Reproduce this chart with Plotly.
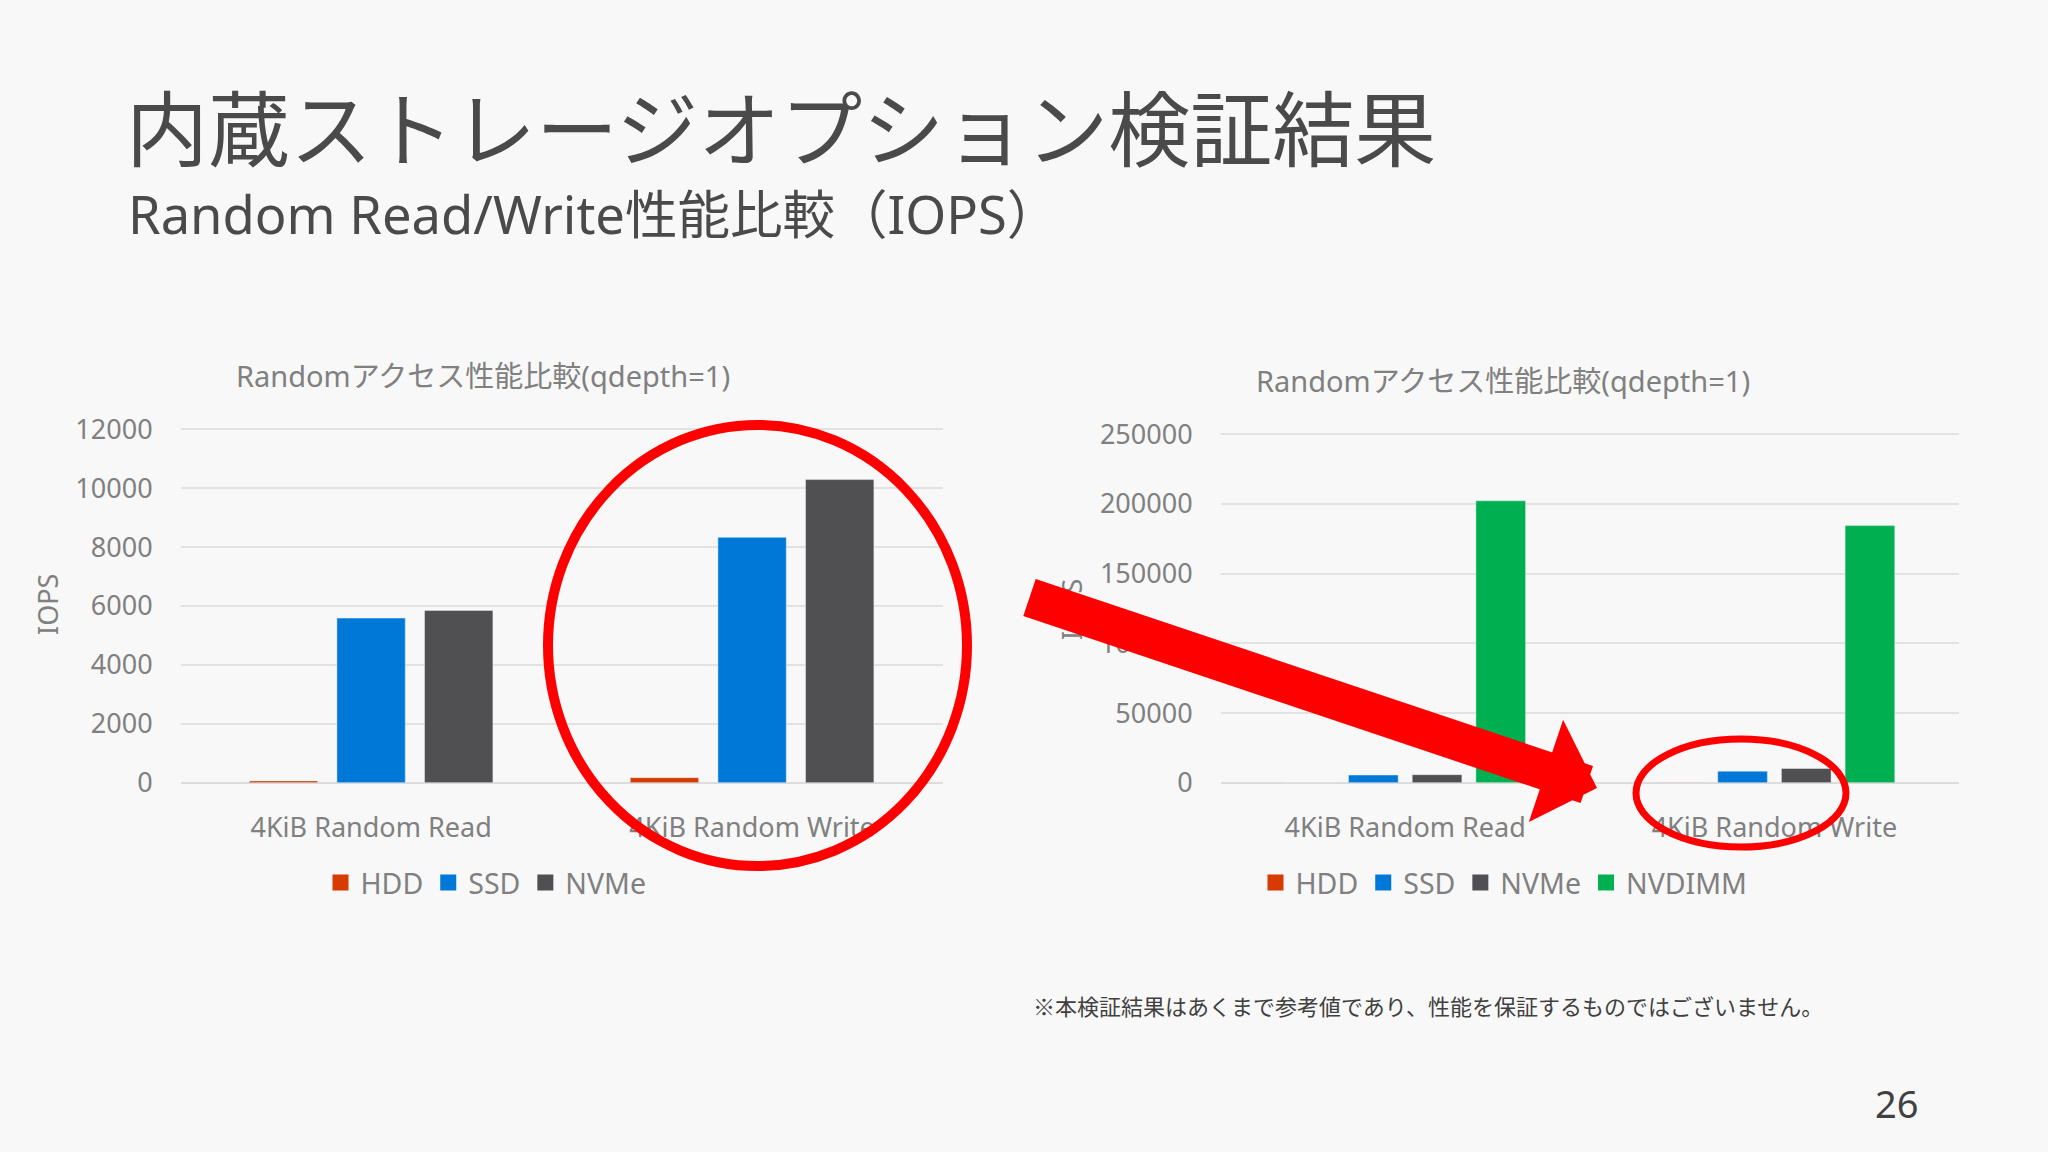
import plotly.graph_objects as go

W, H = 2048, 1152

categories = ["4KiB Random Read", "4KiB Random Write"]
series_left = ["HDD", "SSD", "NVMe"]
series_right = ["HDD", "SSD", "NVMe", "NVDIMM"]
hdd = [65, 175]
ssd = [5590, 8330]
nvme = [5850, 10290]
nvdimm = [202300, 184500]
left_ticks = [0, 2000, 4000, 6000, 8000, 10000, 12000]
right_ticks = [0, 50000, 100000, 150000, 200000, 250000]

colors = {"HDD": "#D83B01", "SSD": "#0078D7", "NVMe": "#505052", "NVDIMM": "#00B050"}
values = {"HDD": hdd, "SSD": ssd, "NVMe": nvme, "NVDIMM": nvdimm}

LATIN = "Noto Sans, Noto Sans CJK JP"
CJK = "Noto Sans CJK JP, Noto Sans"
GRAY = "#808080"
DARK = "#4A4A4A"
BG = "#F8F8F8"


def px(x, y):
    return x / W, 1 - y / H


fig = go.Figure()
for s in series_left:
    fig.add_trace(go.Bar(name=s, x=categories, y=values[s], marker_color=colors[s],
                         xaxis="x", yaxis="y", showlegend=False))
    fig.add_trace(go.Scatter(name=s, x=[None], y=[None], mode="markers", xaxis="x", yaxis="y",
                             marker=dict(symbol="square", size=19, color=colors[s]),
                             legend="legend", hoverinfo="skip"))
for s in series_right:
    fig.add_trace(go.Bar(name=s, x=categories, y=values[s], marker_color=colors[s],
                         xaxis="x2", yaxis="y2", showlegend=False))
    fig.add_trace(go.Scatter(name=s, x=[None], y=[None], mode="markers", xaxis="x2", yaxis="y2",
                             marker=dict(symbol="square", size=19, color=colors[s]),
                             legend="legend2", hoverinfo="skip"))

axis_common = dict(showline=False, ticks="", automargin=False, fixedrange=True,
                   tickfont=dict(family=LATIN, size=27, color=GRAY))
yaxis_common = dict(axis_common, showgrid=True, gridcolor="#E2E2E2", gridwidth=1.5,
                    zeroline=True, zerolinecolor="#DCDCDC", zerolinewidth=1.5,
                    ticklabelstandoff=27, tickformat="d")

# value axis: extend the range a hair so the top gridline is drawn
y0_px = 782.8
l_top_px, r_top_px = 429.2, 434.3
ext = 1.004
l_dom_top = y0_px - (y0_px - l_top_px) * ext
r_dom_top = y0_px - (y0_px - r_top_px) * ext

legend_common = dict(orientation="h", yanchor="middle", y=1 - 883 / H, xanchor="center",
                     font=dict(family=LATIN, size=28.5, color=GRAY), bgcolor="rgba(0,0,0,0)",
                     itemwidth=30, traceorder="normal")

fig.update_layout(
    width=W, height=H,
    margin=dict(l=0, r=0, t=0, b=0, autoexpand=False),
    paper_bgcolor=BG, plot_bgcolor=BG,
    barmode="group", bargap=0.31, bargroupgap=0.22,
    font=dict(family=LATIN, color=GRAY),
    xaxis=dict(axis_common, domain=[180.6 / W, 942.6 / W], anchor="y", ticklabelstandoff=26),
    yaxis=dict(yaxis_common, domain=[1 - y0_px / H, 1 - l_dom_top / H], anchor="x",
               range=[0, 12000 * ext], tickvals=left_ticks),
    xaxis2=dict(axis_common, domain=[1220.6 / W, 1959 / W], anchor="y2", ticklabelstandoff=26),
    yaxis2=dict(yaxis_common, domain=[1 - y0_px / H, 1 - r_dom_top / H], anchor="x2",
                range=[0, 250000 * ext], tickvals=right_ticks),
    legend=dict(legend_common, x=486 / W),
    legend2=dict(legend_common, x=1504 / W),
)

ann = []


def add_text(text, x, y, size, color, xanchor="center", family=CJK, angle=0):
    ax, ay = px(x, y)
    ann.append(dict(text=text, x=ax, y=ay, xref="paper", yref="paper", xanchor=xanchor,
                    yanchor="middle", showarrow=False, textangle=angle,
                    font=dict(family=family, size=size, color=color)))


add_text("内蔵ストレージオプション検証結果", 124, 125, 82, DARK, xanchor="left")
add_text("Random Read/Write性能比較（IOPS）", 126, 213, 52.5, DARK, xanchor="left", family=LATIN)
add_text("Randomアクセス性能比較(qdepth=1)", 483, 376, 29, GRAY, family=LATIN)
add_text("Randomアクセス性能比較(qdepth=1)", 1503, 380, 29, GRAY, family=LATIN)
add_text("IOPS", 47, 605, 27, GRAY, family=LATIN, angle=-90)
add_text("IOPS", 1071, 610, 27, GRAY, family=LATIN, angle=-90)
add_text("※本検証結果はあくまで参考値であり、性能を保証するものではございません。", 1031, 1005, 22,
         "#404040", xanchor="left")
add_text("26", 1896, 1103, 38, "#404040", family=LATIN)

# Big red arrow drawn as an annotation arrow so it lies over the right axis title
tip = (1597, 788)
tail = (1028, 597)
tx, ty = px(*tip)
ann.append(dict(text="", x=tx, y=ty, xref="paper", yref="paper", showarrow=True,
                ax=tail[0] - tip[0], ay=tail[1] - tip[1], axref="pixel", ayref="pixel",
                arrowhead=1, arrowsize=0.46, arrowwidth=39, arrowcolor="#FF0000", standoff=0))
fig.update_layout(annotations=ann)

# Red highlight ellipses
shapes = []
for (x0, y0, x1, y1, w) in [(548, 425, 967, 866, 10), (1636, 739, 1846, 847, 7)]:
    a0, b0 = px(x0, y0)
    a1, b1 = px(x1, y1)
    shapes.append(dict(type="circle", xref="paper", yref="paper", x0=a0, y0=b1, x1=a1, y1=b0,
                       line=dict(color="#FF0000", width=w), layer="above"))
fig.update_layout(shapes=shapes)

fig.write_html(
    "out.html",
    config={"displayModeBar": False},
    post_script="document.body.style.margin='0';document.body.style.overflow='hidden';"
                "document.body.style.background='%s';" % BG,
)
